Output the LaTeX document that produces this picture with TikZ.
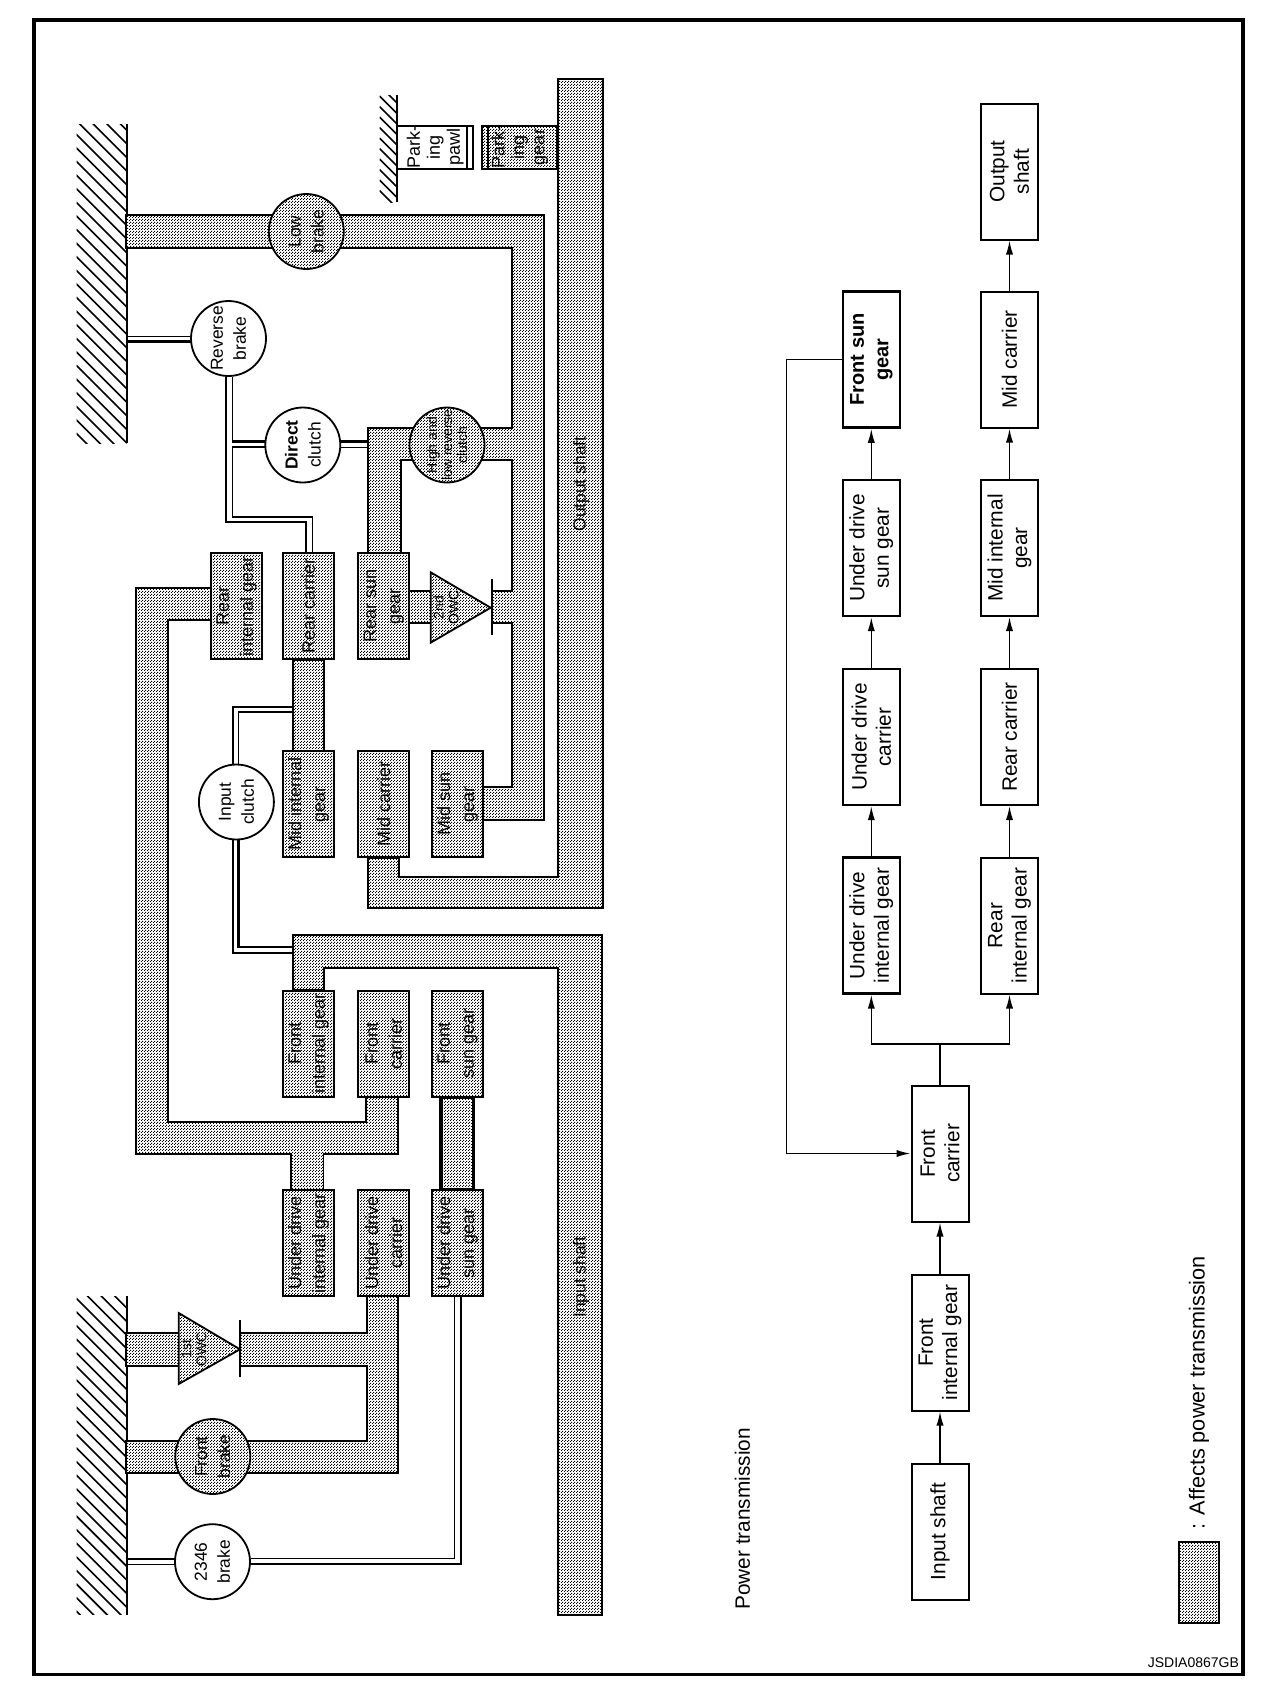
\documentclass[tikz,border=0pt]{standalone}
\usepackage{fontspec}
\setmainfont{Liberation Sans}
\usetikzlibrary{patterns,arrows.meta}

\pgfdeclarepatternformonly{dither}{\pgfqpoint{0pt}{0pt}}{\pgfqpoint{1.5pt}{1.5pt}}{\pgfqpoint{1.5pt}{1.5pt}}{
  \pgfpathrectangle{\pgfqpoint{0pt}{0pt}}{\pgfqpoint{.62pt}{.62pt}}
  \pgfpathrectangle{\pgfqpoint{.75pt}{.75pt}}{\pgfqpoint{.62pt}{.62pt}}
  \pgfusepath{fill}}

\tikzset{
  dithered/.style={preaction={fill=white},pattern=dither},
  shaft/.style={draw,line width=0.9pt,dithered,line join=miter},
  linkthin/.style={line width=0.5pt},
  linkmid/.style={line width=0.9pt},
  linkthick/.style={line width=1.4pt},
  hatchline/.style={line width=0.8pt},
  gearbox/.style={draw,line width=1pt,dithered,rotate=90,align=center,
    minimum width=53pt,minimum height=25.5pt,inner sep=0pt,
    font=\fontsize{9}{12}\selectfont},
  clutch/.style={draw,line width=0.9pt,fill=white,circle,minimum size=37.5pt,inner sep=0pt},
  clutchtext/.style={rotate=90,align=center,font=\fontsize{8.7}{11.5}\selectfont},
  hatchclutch/.style={draw,line width=0.9pt,dithered,circle,minimum size=37.5pt,inner sep=0pt},
  flowbox/.style={draw,line width=1pt,rotate=90,align=center,
    minimum width=68pt,minimum height=28.5pt,inner sep=0pt,
    font=\fontsize{10.4}{12.2}\selectfont},
  flowline/.style={line width=0.75pt},
  flowarrow/.style={flowline,-{Latex[length=7pt,width=3.6pt]}},
}

\begin{document}
\begin{tikzpicture}[x=0.5pt,y=-0.5pt]
  \useasboundingbox (0,0) rectangle (1280,1682);

  % --- Frame ---
  \draw[line width=1.8pt] (34,20) rectangle (1242.7,1674.5);

  % --- Rows and columns ---
  \def\rearY{606.3}
  \def\midY{804.4}
  \def\frontY{1043.8}
  \def\underY{1243}
  \def\intX{308.5}
  \def\carX{383.8}
  \def\sunX{457.5}

  % --- Ground ---
  \begin{scope}
    \clip (76.5,124) rectangle (126.5,443);
    \foreach \y in {52.3,65.9,...,440}
      \draw[hatchline] (76,\y) -- ++(51,51);
  \end{scope}
  \begin{scope}
    \clip (76.5,1296) rectangle (126.5,1614.5);
    \foreach \y in {1230,1243.6,...,1620}
      \draw[hatchline] (76,\y) -- ++(51,51);
  \end{scope}
  \begin{scope}
    \clip (379.5,95) rectangle (397.4,202);
    \foreach \y in {75,85.5,...,200}
      \draw[hatchline] (379.5,\y) -- ++(18,18);
  \end{scope}
  \draw[line width=1pt] (126.5,124) -- (126.5,443);
  \draw[line width=1pt] (126.5,1296) -- (126.5,1614.5);
  \draw[line width=1pt] (397.4,95) -- (397.4,202);

  % --- Output shaft ---
  \draw[shaft] (558,79) -- (602.6,79) -- (602.6,908) -- (367.7,908) -- (367.7,858)
       -- (399,858) -- (399,877) -- (558,877) -- cycle;

  % --- Low brake shaft ---
  \draw[shaft] (126,215) -- (543.7,215) -- (543.7,820) -- (483,820) -- (483,787)
       -- (511.6,787) -- (511.6,623) -- (492,623) -- (492,591) -- (511.6,591)
       -- (511.6,460) -- (401,460) -- (401,553) -- (367.7,553) -- (367.7,428)
       -- (511.6,428) -- (511.6,248) -- (126,248) -- cycle;
  \draw[shaft] (409,591) rectangle (431,623);

  % --- Carrier shafts ---
  \draw[shaft] (292.8,660) rectangle (324,751);
  \draw[shaft] (211,588) -- (135.7,588) -- (135.7,1154) -- (291,1154) -- (291,1190)
       -- (323.5,1190) -- (323.5,1154) -- (398,1154) -- (398,1097) -- (366.3,1097)
       -- (366.3,1122) -- (167.8,1122) -- (167.8,620) -- (211,620) -- cycle;

  % --- Input shaft ---
  \draw[shaft] (292.8,935) -- (602,935) -- (602,1615) -- (558,1615) -- (558,968)
       -- (324,968) -- (324,990) -- (292.8,990) -- cycle;
  \draw[shaft,line width=1.6pt] (441,1097) rectangle (473.4,1190);

  % --- Under drive carrier shaft ---
  \draw[shaft] (366.7,1296) -- (398.3,1296) -- (398.3,1473.3) -- (126,1473.3) -- (126,1441)
       -- (366.7,1441) -- (366.7,1366) -- (240.3,1366) -- (240.3,1332.7) -- (366.7,1332.7) -- cycle;
  \draw[shaft] (126,1332.7) rectangle (179,1366);

  % --- Double links ---
  \draw[linkthin] (126,336) -- (191,336);
  \draw[linkthick] (126,341.7) -- (191,341.7);
  \draw[linkmid] (226,377) -- (226,522) -- (306.3,522) -- (306.3,553);
  \draw[linkmid] (232.4,377) -- (232.4,441.7);
  \draw[linkthick] (232.4,441.7) -- (265.3,441.7);
  \draw[linkmid] (265.3,447.3) -- (232.4,447.3) -- (232.4,517) -- (312.4,517) -- (312.4,553);
  \draw[linkthick] (340.2,441.7) -- (367.7,441.7);
  \draw[linkthin] (340.2,447.3) -- (367.7,447.3);
  \draw[linkthin,line width=0.8pt] (233,764) -- (233,706.7) -- (292.8,706.7);
  \draw[linkmid] (238.5,764) -- (238.5,712.3) -- (292.8,712.3);
  \draw[linkmid] (233,840) -- (233,953) -- (292.8,953);
  \draw[linkthick] (238.5,840) -- (238.5,947) -- (292.8,947);
  \draw[linkmid] (126,1558.7) -- (175,1558.7);
  \draw[linkthin] (126,1564.3) -- (175,1564.3);
  \draw[linkthin] (250.5,1558.3) -- (454.3,1558.3) -- (454.3,1296);
  \draw[linkmid] (250.5,1564.3) -- (460.7,1564.3) -- (460.7,1296);

  % --- Gear boxes ---
  \node[gearbox] (rearint) at (236.5,\rearY) {Rear\\internal gear};
  \node[gearbox] (rearcar) at (\intX,\rearY) {Rear carrier};
  \node[gearbox] (rearsun) at (\carX,\rearY) {Rear sun\\gear};
  \node[gearbox] (midint) at (\intX,\midY) {Mid internal\\gear};
  \node[gearbox] (midcar) at (\carX,\midY) {Mid carrier};
  \node[gearbox] (midsun) at (\sunX,\midY) {Mid sun\\gear};
  \node[gearbox] (frontint) at (\intX,\frontY) {Front\\internal gear};
  \node[gearbox] (frontcar) at (\carX,\frontY) {Front\\carrier};
  \node[gearbox] (frontsun) at (\sunX,\frontY) {Front\\sun gear};
  \node[gearbox] (underint) at (\intX,\underY) {Under drive\\internal gear};
  \node[gearbox] (undercar) at (\carX,\underY) {Under drive\\carrier};
  \node[gearbox] (undersun) at (\sunX,\underY) {Under drive\\sun gear};

  % --- Parking ---
  \node[draw,line width=1pt,fill=white,rotate=90,align=center,minimum width=21pt,
        minimum height=37.8pt,inner sep=0pt,font=\fontsize{9}{10}\selectfont]
        (pawl) at (435.2,147) {Park-\\ing\\pawl};
  \node[gearbox,minimum width=21pt,minimum height=37.5pt,font=\fontsize{9}{10}\selectfont]
        (parkgear) at (519.8,147) {Park-\\ing\\gear};
  \draw[line width=1pt] (467,126) -- (467,168);
  \draw[line width=1pt] (488.4,126) -- (488.4,168);

  % --- One way clutches ---
  \draw[shaft] (430.7,572.3) -- (490.7,607.7) -- (430.7,642.7) -- cycle;
  \draw[line width=0.9pt] (492,579.3) -- (492,635);
  \node[rotate=90,align=center,font=\fontsize{7}{7.5}\selectfont] (owctwo) at (446,607.5) {2nd\\OWC};
  \draw[shaft] (178.7,1313) -- (240,1349.3) -- (178.7,1384) -- cycle;
  \draw[line width=0.9pt] (240.3,1320) -- (240.3,1376.7);
  \node[rotate=90,align=center,font=\fontsize{7}{7.5}\selectfont] (owcone) at (194,1349.3) {1st\\OWC};

  % --- Clutches and brakes ---
  \node[hatchclutch] (lowbrake) at (306.3,231.5) {};
  \node[clutchtext] at (lowbrake) {Low\\brake};
  \node[clutch] (revbrake) at (228.5,338.5) {};
  \node[clutchtext] at (revbrake) {Reverse\\brake};
  \node[clutch] (dirclutch) at (302.8,445) {};
  \node[clutchtext] at (dirclutch) {{\bfseries Direct}\\clutch};
  \node[hatchclutch] (hlrclutch) at (447,445) {};
  \node[clutchtext,font=\fontsize{7}{7.6}\selectfont] at (hlrclutch) {High and\\low reverse\\clutch};
  \node[clutch] (inclutch) at (236.4,802) {};
  \node[clutchtext] at (inclutch) {Input\\clutch};
  \node[hatchclutch] (frontbrake) at (212.8,1456.5) {};
  \node[clutchtext] at (frontbrake) {Front\\brake};
  \node[clutch] (fourbrake) at (212.5,1561.7) {};
  \node[clutchtext] at (fourbrake) {2346\\brake};

  % --- Shaft labels ---
  \node[clutchtext] (outlabel) at (581,484) {Output shaft};
  \node[clutchtext] (inlabel) at (581,1277) {Input shaft};

  % --- Power transmission flow ---
  \node[rotate=90,anchor=west,inner sep=0pt,font=\fontsize{10.4}{12}\selectfont] (title) at (742.5,1610) {Power transmission};
  \node[flowbox] (inshaft) at (940,1531.5) {Input shaft};
  \node[flowbox] (fint) at (940,1342.5) {Front\\internal gear};
  \node[flowbox] (fcar) at (940,1153.5) {Front\\carrier};
  \node[flowbox,line width=1.15pt] (udint) at (871.3,925.5) {Under drive\\internal gear};
  \node[flowbox,line width=1.15pt] (udcar) at (871.3,737) {Under drive\\carrier};
  \node[flowbox,line width=1.15pt] (udsun) at (871.3,548) {Under drive\\sun gear};
  \node[flowbox,line width=1.25pt,font=\bfseries\fontsize{10}{12.2}\selectfont] (fsun) at (871.3,359.5) {Front sun\\gear};
  \node[flowbox] (rint) at (1009.5,925.5) {Rear\\internal gear};
  \node[flowbox] (rcar) at (1009.5,737) {Rear carrier};
  \node[flowbox] (mint) at (1009.5,548) {Mid internal\\gear};
  \node[flowbox] (mcar) at (1009.5,359.5) {Mid carrier};
  \node[flowbox] (oshaft) at (1009.5,171.5) {Output\\shaft};

  \coordinate (split) at (940,1044);
  \coordinate (loopa) at (786.5,359.5);
  \coordinate (loopb) at (786.5,1153.5);

  \draw[flowarrow] (inshaft) -- (fint);
  \draw[flowarrow] (fint) -- (fcar);
  \draw[flowline] (fcar) -- (split);
  \draw[flowarrow] (split) -| (udint);
  \draw[flowarrow] (split) -| (rint);
  \draw[flowarrow] (udint) -- (udcar);
  \draw[flowarrow] (udcar) -- (udsun);
  \draw[flowarrow] (udsun) -- (fsun);
  \draw[flowarrow] (rint) -- (rcar);
  \draw[flowarrow] (rcar) -- (mint);
  \draw[flowarrow] (mint) -- (mcar);
  \draw[flowarrow] (mcar) -- (oshaft);
  \draw[flowarrow] (fsun.north) -- (loopa) -- (loopb) -- (fcar.north);

  % --- Legend ---
  \node[shaft,line width=1pt,minimum width=19.7pt,minimum height=40.7pt,inner sep=0pt]
        (swatch) at (1199,1582.5) {};
  \node[rotate=90,anchor=west,inner sep=0pt,font=\fontsize{10.85}{12}\selectfont] (legend) at (1199,1529.5) {: Affects power transmission};
  \node[anchor=east,inner sep=0pt,font=\fontsize{7}{8}\selectfont] (code) at (1239.3,1663) {JSDIA0867GB};
\end{tikzpicture}
\end{document}
